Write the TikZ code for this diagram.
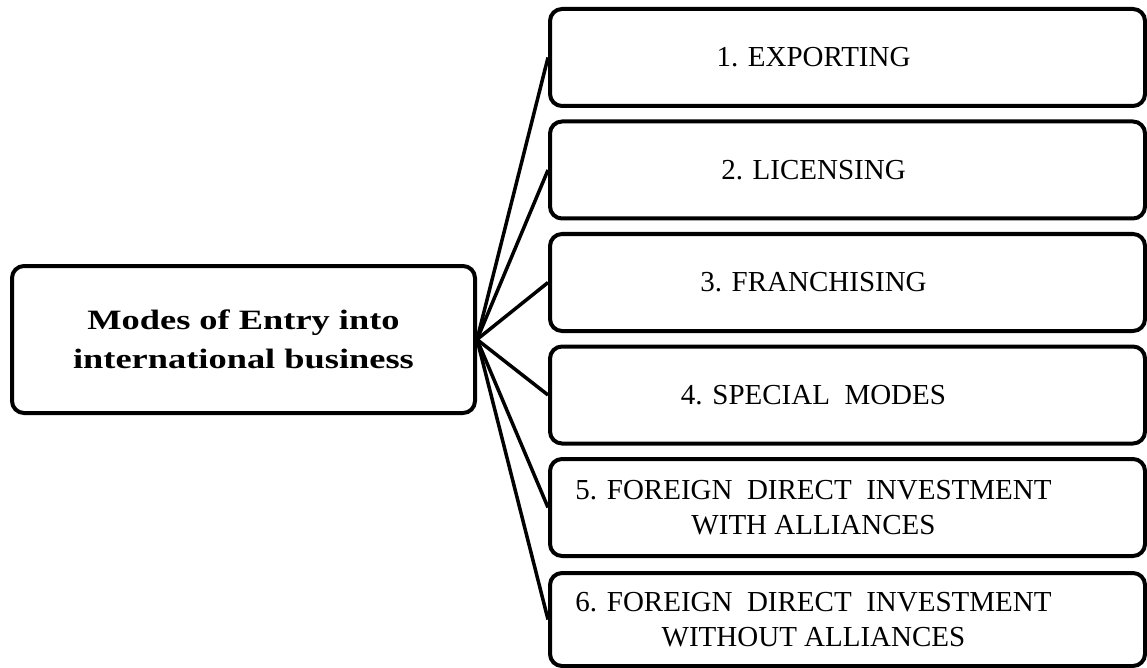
\documentclass[tikz,border=0pt]{standalone}
\usepackage{fontspec}
\setmainfont{Liberation Serif}
\newfontfamily\hubfont[FakeStretch=1.3]{Liberation Serif}
\begin{document}
\begin{tikzpicture}[x=1pt,y=-1pt,
  frame/.style={draw=black, line width=4pt, rounded corners=12pt, inner sep=0pt},
  hub/.style={frame, minimum width=463pt, minimum height=147pt,
    font=\hubfont\bfseries\fontsize{28}{39}\selectfont, align=center},
  item/.style={frame, minimum width=595pt, minimum height=97pt},
  itemtext/.style={font=\fontsize{29}{35}\selectfont, align=center, xshift=-34pt, inner sep=0pt},
  link/.style={draw=black, line width=3.5pt}]
\useasboundingbox (0,0) rectangle (1147,668);

% central box
\node[hub] (main) at (243.5,339.5) {Modes of Entry into\\international business};

% the six entry modes
\node[item, label={[itemtext, name=t1]center:1. EXPORTING}] (b1) at (847.5,57.5) {};
\node[item, label={[itemtext, name=t2]center:2. LICENSING}] (b2) at (847.5,170) {};
\node[item, label={[itemtext, name=t3]center:3. FRANCHISING}] (b3) at (847.5,282.5) {};
\node[item, label={[itemtext, name=t4]center:4. SPECIAL\ \ MODES}] (b4) at (847.5,395) {};
\node[item, label={[itemtext, name=t5]center:5. FOREIGN\ \ DIRECT\ \ INVESTMENT\\WITH ALLIANCES}] (b5) at (847.5,507.5) {};
\node[item, minimum height=93pt, label={[itemtext, name=t6]center:6. FOREIGN\ \ DIRECT\ \ INVESTMENT\\WITHOUT ALLIANCES}] (b6) at (847.5,619.5) {};

% connectors fanning out from the central box
\foreach \i in {1,...,6}
  \draw[link] (main.east) -- (b\i.west);
\end{tikzpicture}
\end{document}
